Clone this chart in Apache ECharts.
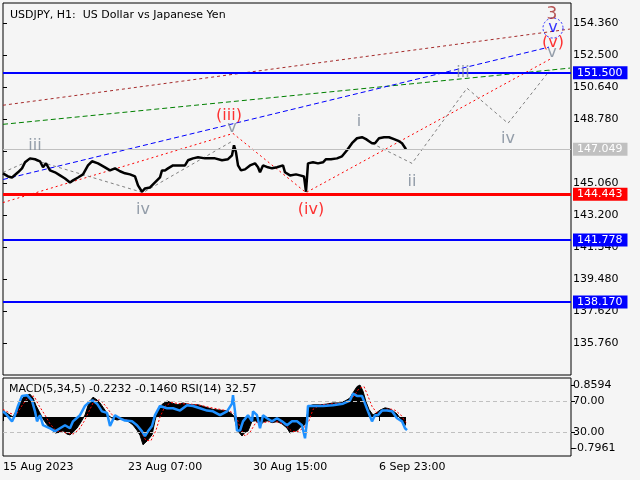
<!DOCTYPE html>
<html><head><meta charset="utf-8">
<script src="https://cdn.jsdelivr.net/npm/echarts@6/dist/echarts.min.js"></script>
<style>html,body{margin:0;padding:0;background:#f5f5f5}#c{width:640px;height:480px}</style>
</head><body><div id="c"></div>
<script>
// ---------- data ----------
const timeTicks = [0, 125, 250, 376];
const timeLabels = ['15 Aug 2023', '23 Aug 07:00', '30 Aug 15:00', '6 Sep 23:00'];
const priceTicks = [154.36, 152.5, 150.64, 148.78, 146.92, 145.06, 143.2, 141.34, 139.48, 137.62, 135.76];
const levelValues = [151.5, 147.049, 144.443, 141.778, 138.17];
const levelLabels = ['151.500', '147.049', '144.443', '141.778', '138.170'];

const price = [[0,145.65],[5,145.47],[9,145.41],[15,145.71],[19,145.94],[22,146.29],[27,146.52],[32,146.47],[37,146.35],[40,146.00],[43,146.23],[47,145.82],[52,145.71],[57,145.53],[62,145.35],[67,145.12],[70,145.24],[75,145.41],[80,145.59],[85,146.11],[89,146.35],[95,146.23],[102,146.00],[107,145.82],[112,145.94],[117,145.77],[122,145.65],[127,145.59],[132,145.47],[135,144.95],[139,144.58],[142,144.77],[147,144.83],[152,145.12],[157,145.41],[159,145.82],[162,145.82],[165,145.94],[170,146.11],[175,146.11],[182,146.11],[185,146.41],[190,146.52],[195,146.58],[202,146.52],[207,146.52],[212,146.52],[219,146.41],[225,146.47],[229,146.70],[231,147.28],[233,146.87],[235,146.11],[238,145.82],[242,145.88],[247,146.11],[252,146.23],[255,146.00],[257,145.71],[260,146.11],[265,146.00],[269,145.94],[274,146.00],[280,146.11],[282,145.71],[287,145.53],[293,145.59],[297,145.53],[301,145.47],[303,144.58],[305,146.23],[310,146.29],[315,146.23],[320,146.29],[323,146.47],[328,146.47],[334,146.52],[339,146.64],[344,146.99],[349,147.40],[354,147.69],[359,147.75],[363,147.64],[366,147.52],[369,147.40],[372,147.40],[376,147.69],[381,147.75],[386,147.75],[391,147.64],[396,147.52],[399,147.40],[403,147.05]];

const trendBrown = [[0,149.61],[567,154.04]];
const trendGreen = [[0,148.50],[567,151.77]];
const trendBlue = [[0,145.29],[546,152.99]];
const waveRed = [[0,143.95],[230,147.97],[303,144.53],[549,152.35]];
const waveGrayPast = [[0,145.70],[29,146.46],[140,144.53],[229,147.51]];
const waveGrayFuture = [[369,147.39],[409,146.23],[464,150.60],[505,148.56],[547,151.65]];

const grayWaveLabels = [[32,147.22,'iii'],[140,143.54,'iv'],[229,148.27,'v'],[356,148.67,'i'],[409,145.18,'ii'],[460,151.47,'iii'],[505,147.68,'iv'],[549,152.64,'v']];
const redWaveLabels = [[226,149.02,'(iii)'],[308,143.54,'(iv)'],[550,153.22,'(v)']];
const blueWaveLabels = [[550,154.10,'v']];
const brownWaveLabels = [[549,154.91,'3']];

const macdHist = [[0,0.16],[4,0.10],[7,0.05],[10,0.0],[13,0.15],[17,0.42],[22,0.55],[27,0.60],[30,0.50],[33,0.30],[37,0.10],[40,-0.05],[44,-0.20],[47,-0.29],[52,-0.42],[57,-0.40],[60,-0.36],[64,-0.45],[67,-0.47],[70,-0.40],[74,-0.29],[78,-0.13],[82,0.05],[85,0.30],[87,0.42],[90,0.52],[94,0.45],[97,0.37],[102,0.18],[105,0.05],[109,-0.03],[114,-0.08],[119,-0.05],[123,-0.08],[127,-0.15],[130,-0.21],[134,-0.35],[137,-0.48],[140,-0.73],[144,-0.63],[149,-0.47],[152,-0.10],[155,0.20],[159,0.33],[164,0.42],[169,0.37],[174,0.32],[180,0.37],[184,0.34],[190,0.32],[195,0.32],[200,0.28],[205,0.24],[210,0.20],[217,0.18],[224,0.16],[228,0.10],[231,0.02],[233,-0.20],[235,-0.37],[239,-0.50],[242,-0.40],[245,-0.37],[249,-0.11],[253,-0.10],[257,-0.21],[261,-0.12],[265,-0.10],[269,-0.15],[274,-0.12],[279,-0.18],[284,-0.29],[287,-0.42],[291,-0.38],[294,-0.36],[298,-0.25],[302,-0.20],[304,0.05],[307,0.30],[310,0.32],[317,0.32],[324,0.34],[330,0.37],[337,0.37],[342,0.42],[347,0.50],[351,0.68],[354,0.80],[357,0.84],[360,0.68],[363,0.40],[366,0.20],[370,0.05],[374,0.12],[377,0.18],[382,0.24],[386,0.22],[390,0.16],[394,0.08],[397,-0.03],[400,-0.15],[403,-0.22]];
const macdSignal = [[0,0.20],[7,0.10],[13,0.05],[19,0.30],[25,0.52],[31,0.55],[36,0.30],[42,0.05],[47,-0.18],[53,-0.36],[59,-0.40],[65,-0.42],[70,-0.45],[76,-0.33],[81,-0.12],[86,0.15],[91,0.42],[97,0.45],[103,0.28],[109,0.06],[117,-0.06],[125,-0.08],[131,-0.16],[137,-0.34],[143,-0.62],[148,-0.62],[153,-0.35],[157,0.00],[162,0.28],[168,0.38],[177,0.35],[187,0.34],[197,0.31],[207,0.25],[217,0.20],[227,0.15],[233,0.05],[237,-0.28],[242,-0.50],[247,-0.40],[253,-0.14],[259,-0.15],[267,-0.12],[275,-0.13],[282,-0.20],[289,-0.38],[295,-0.38],[301,-0.28],[306,-0.10],[310,0.20],[317,0.32],[327,0.34],[337,0.36],[345,0.40],[351,0.55],[356,0.75],[361,0.80],[365,0.55],[369,0.28],[374,0.10],[380,0.16],[386,0.22],[392,0.18],[398,0.05],[403,-0.146]];
const rsi = [[0,57],[4,52],[9,44],[12,52],[15,64],[19,77],[24,78],[29,71],[32,57],[34,44],[37,52],[40,39],[47,35],[52,31],[57,35],[62,39],[67,35],[70,44],[77,52],[82,64],[87,70],[90,71],[94,67],[99,57],[104,55],[107,38],[112,52],[117,48],[122,45],[129,44],[134,39],[139,31],[142,25],[145,31],[149,38],[152,52],[157,64],[164,61],[170,61],[177,58],[184,65],[190,64],[197,61],[204,58],[210,57],[217,52],[224,57],[229,67],[230,78],[232,57],[234,32],[237,32],[240,44],[245,52],[249,44],[250,57],[254,52],[257,35],[260,52],[264,48],[269,44],[274,48],[279,44],[284,39],[289,44],[294,44],[299,39],[302,22],[304,44],[305,64],[310,64],[320,64],[330,65],[340,67],[347,71],[350,80],[354,77],[359,77],[362,67],[365,57],[369,44],[372,52],[375,52],[379,58],[384,58],[389,57],[394,48],[399,44],[402,35],[404,32.57]];
const subTicks = [91.2, 70, 30, 9.4];
const subLabels = ['0.8594', '70.00', '30.00', '-0.7961'];

// ---------- chart ----------
const FONT = 'DejaVu Sans';
const chart = echarts.init(document.getElementById('c'), null, {renderer: 'canvas'});
const levelColors = ['#0000ff', '#c0c0c0', '#ff0000', '#0000ff', '#0000ff'];
const levelWidths = [2, 1, 3, 2, 2];

function waveSeries(data, color, size) {
  return {
    type: 'scatter', xAxisIndex: 0, yAxisIndex: 0, z: 5, silent: true,
    symbolSize: 1, itemStyle: {color: 'rgba(0,0,0,0)'},
    data: data.map(d => ({value: [d[0], d[1]], name: d[2]})),
    label: {show: true, position: 'inside', formatter: p => p.name, color: color,
            fontSize: size, fontFamily: FONT}
  };
}
function trend(data, color, dash, width) {
  return {type: 'line', xAxisIndex: 0, yAxisIndex: 0, data: data, symbol: 'none', silent: true,
          lineStyle: {color: color, width: width || 1, type: dash}, z: 3};
}

const option = {
  backgroundColor: '#f5f5f5',
  animation: false,
  title: [
    {text: 'USDJPY, H1:  US Dollar vs Japanese Yen', left: 5, top: 5,
     textStyle: {fontSize: 11, fontWeight: 'normal', color: '#000', fontFamily: FONT}},
    {text: 'MACD(5,34,5) -0.2232 -0.1460 RSI(14) 32.57', left: 4, top: 379,
     textStyle: {fontSize: 11, fontWeight: 'normal', color: '#000', fontFamily: FONT}}
  ],
  grid: [
    {left: 3, top: 3, width: 568, height: 372, show: true, borderColor: '#000', borderWidth: 1, backgroundColor: 'transparent'},
    {left: 3, top: 378, width: 568, height: 78, show: true, borderColor: '#000', borderWidth: 1, backgroundColor: 'transparent'}
  ],
  xAxis: [
    {type: 'value', gridIndex: 0, min: 0, max: 568, axisLine: {show: false}, axisTick: {show: false},
     axisLabel: {show: false}, splitLine: {show: false}},
    {type: 'value', gridIndex: 1, min: 0, max: 568, axisLine: {show: false},
     axisTick: {show: true, customValues: timeTicks, length: 4, lineStyle: {color: '#000'}},
     axisLabel: {show: true, customValues: timeTicks, align: 'left', margin: 6, color: '#000', fontSize: 11, fontFamily: FONT,
       formatter: v => { const i = timeTicks.indexOf(v); return i >= 0 ? timeLabels[i] : ''; }},
     splitLine: {show: false}}
  ],
  yAxis: [
    {type: 'value', gridIndex: 0, position: 'right', min: 133.923, max: 155.555, axisLine: {show: false},
     axisTick: {show: true, customValues: priceTicks, length: 4, lineStyle: {color: '#000'}},
     axisLabel: {show: true, customValues: priceTicks, margin: 2, color: '#000', fontSize: 11, fontFamily: FONT,
       formatter: v => v.toFixed(3)},
     splitLine: {show: false}},
    {type: 'value', gridIndex: 1, min: -1.025, max: 1.025, show: false, splitLine: {show: false}},
    {type: 'value', gridIndex: 1, position: 'right', min: -1, max: 100.3, axisLine: {show: false},
     axisTick: {show: true, customValues: subTicks, length: 4, lineStyle: {color: '#000'}},
     axisLabel: {show: true, customValues: subTicks, margin: 2, color: '#000', fontSize: 11, fontFamily: FONT,
       formatter: v => { for (let i = 0; i < subTicks.length; i++) if (Math.abs(subTicks[i] - v) < 0.01) return subLabels[i]; return ''; }},
     splitLine: {show: false}}
  ],
  series: [
    {type: 'line', xAxisIndex: 0, yAxisIndex: 0, data: [], symbol: 'none', z: 6, silent: true,
     markLine: {symbol: 'none', silent: true, animation: false,
       data: levelValues.map((v, i) => ({
         yAxis: v,
         lineStyle: {color: levelColors[i], width: levelWidths[i], type: 'solid'},
         label: {show: true, position: 'end', distance: 2, formatter: levelLabels[i], color: '#fff',
                 backgroundColor: levelColors[i], padding: [1, 5, 0, 4], fontSize: 11, fontFamily: FONT, lineHeight: 12}
       }))}},
    trend(trendBrown, '#a52a2a', [3, 3]),
    trend(trendGreen, '#008000', [5, 3]),
    trend(trendBlue, '#0000ff', [5, 3]),
    trend(waveRed, '#ff0000', [2, 3]),
    trend(waveGrayPast, '#808080', [3, 3]),
    trend(waveGrayFuture, '#808080', [3, 3]),
    {type: 'line', xAxisIndex: 0, yAxisIndex: 0, data: price, symbol: 'none', z: 4, silent: true,
     lineStyle: {color: '#000', width: 2.5}},
    waveSeries(grayWaveLabels, '#7b8796', 16),
    waveSeries(redWaveLabels, '#ff0000', 16),
    waveSeries(blueWaveLabels, '#0000ff', 16),
    waveSeries(brownWaveLabels, '#a52a2a', 17),
    {type: 'scatter', xAxisIndex: 0, yAxisIndex: 0, z: 5, silent: true, symbol: 'circle', symbolSize: 20,
     data: blueWaveLabels.map(d => [d[0], d[1]]),
     itemStyle: {color: 'rgba(0,0,0,0)', borderColor: '#0000ff', borderWidth: 1, borderType: [2, 2]}},
    {type: 'line', xAxisIndex: 1, yAxisIndex: 1, data: macdHist, symbol: 'none', silent: true, z: 2,
     lineStyle: {color: '#000', width: 1}, areaStyle: {color: '#000', opacity: 1, origin: 0}},
    {type: 'line', xAxisIndex: 1, yAxisIndex: 1, data: macdSignal, symbol: 'none', silent: true, z: 3,
     lineStyle: {color: '#ff0000', width: 1, type: [2, 2]}},
    {type: 'line', xAxisIndex: 1, yAxisIndex: 2, data: rsi, symbol: 'none', silent: true, z: 4,
     lineStyle: {color: '#1e90ff', width: 2.5},
     markLine: {symbol: 'none', silent: true, label: {show: false},
       lineStyle: {color: '#c0c0c0', type: [4, 3], width: 1},
       data: [{yAxis: 70}, {yAxis: 30}]}}
  ]
};
chart.setOption(option);
</script></body></html>
